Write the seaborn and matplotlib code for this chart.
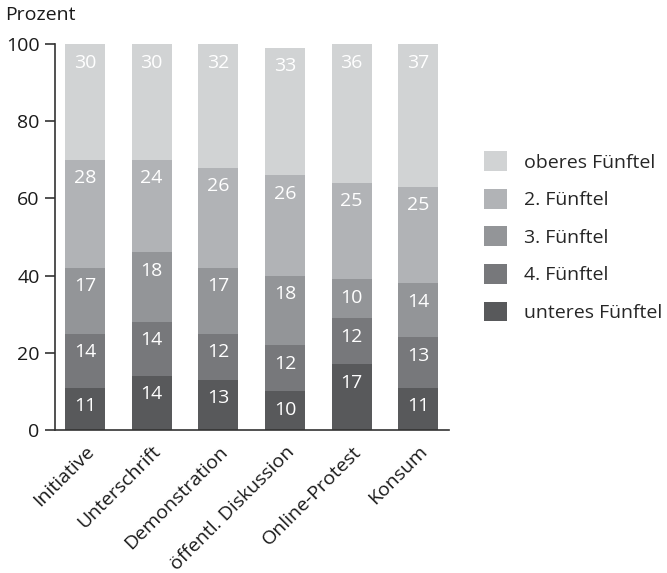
import matplotlib
matplotlib.use("Agg")
import matplotlib.pyplot as plt
from matplotlib.patches import Patch
import numpy as np
import pandas as pd
import seaborn as sns

categories = ["Initiative", "Unterschrift", "Demonstration",
              "öffentl. Diskussion", "Online-Protest", "Konsum"]
unteres = [11, 14, 13, 10, 17, 11]
viertes = [14, 14, 12, 12, 12, 13]
drittes = [17, 18, 17, 18, 10, 14]
zweites = [28, 24, 26, 26, 25, 25]
oberes = [30, 30, 32, 33, 36, 37]

series_names = ["unteres Fünftel", "4. Fünftel", "3. Fünftel", "2. Fünftel", "oberes Fünftel"]
series_values = [unteres, viertes, drittes, zweites, oberes]
colors = ["#58595b", "#77787b", "#939598", "#b1b3b6", "#d1d3d4"]
yticks = [0, 20, 40, 60, 80, 100]

sns.set_theme(style="white")
plt.rcParams["font.family"] = ["Open Sans", "DejaVu Sans"]
FS = 14

W, H = 667, 573
fig = plt.figure(figsize=(W / 100, H / 100), dpi=100)
ax = fig.add_axes([55 / W, (H - 430) / H, (449 - 55) / W, (430 - 44) / H])

vals = np.array(series_values, dtype=float)
cum = np.cumsum(vals, axis=0)

# draw cumulative totals from the tallest layer down so each layer covers the next
for i in range(len(series_names) - 1, -1, -1):
    df = pd.DataFrame({"cat": categories, "val": cum[i]})
    sns.barplot(data=df, x="cat", y="val", color=colors[i], saturation=1,
                width=0.6, ax=ax, linewidth=0, errorbar=None)

# value labels just below the top of each segment
for i in range(len(series_names)):
    for j in range(len(categories)):
        ax.text(j, cum[i, j] - 4.8, f"{int(vals[i, j])}", ha="center", va="center",
                color="white", fontsize=FS)

ax.set_xlim(-0.45, 5.46)
ax.set_ylim(0, 100)
ax.set_yticks(yticks)
ax.set_yticklabels([str(t) for t in yticks], fontsize=FS, color="#1a1a1a")
ax.set_xlabel("")
ax.set_ylabel("")
ax.set_xticks(range(len(categories)))
ax.set_xticklabels(categories, rotation=45, ha="right", rotation_mode="anchor",
                   fontsize=FS, color="#1a1a1a")
ax.tick_params(axis="x", length=0, pad=9)
ax.tick_params(axis="y", length=7, width=1.2, color="#333333", pad=4, left=True)
for s in ["top", "right"]:
    ax.spines[s].set_visible(False)
for s in ["left", "bottom"]:
    ax.spines[s].set_color("#333333")
    ax.spines[s].set_linewidth(1.2)

fig.text(5 / W, 1 - 15 / H, "Prozent", fontsize=FS, color="#1a1a1a", va="center", ha="left")

handles = [Patch(facecolor=colors[i], edgecolor="none", label=series_names[i])
           for i in range(len(series_names) - 1, -1, -1)]
fig.legend(handles=handles, loc="upper left", bbox_to_anchor=(484 / W, 1 - 151 / H),
           frameon=False, fontsize=FS, handlelength=1.2, handleheight=1.2,
           labelspacing=0.88, handletextpad=0.85, borderpad=0, borderaxespad=0)

fig.savefig("out.png", dpi=100, facecolor="white")
